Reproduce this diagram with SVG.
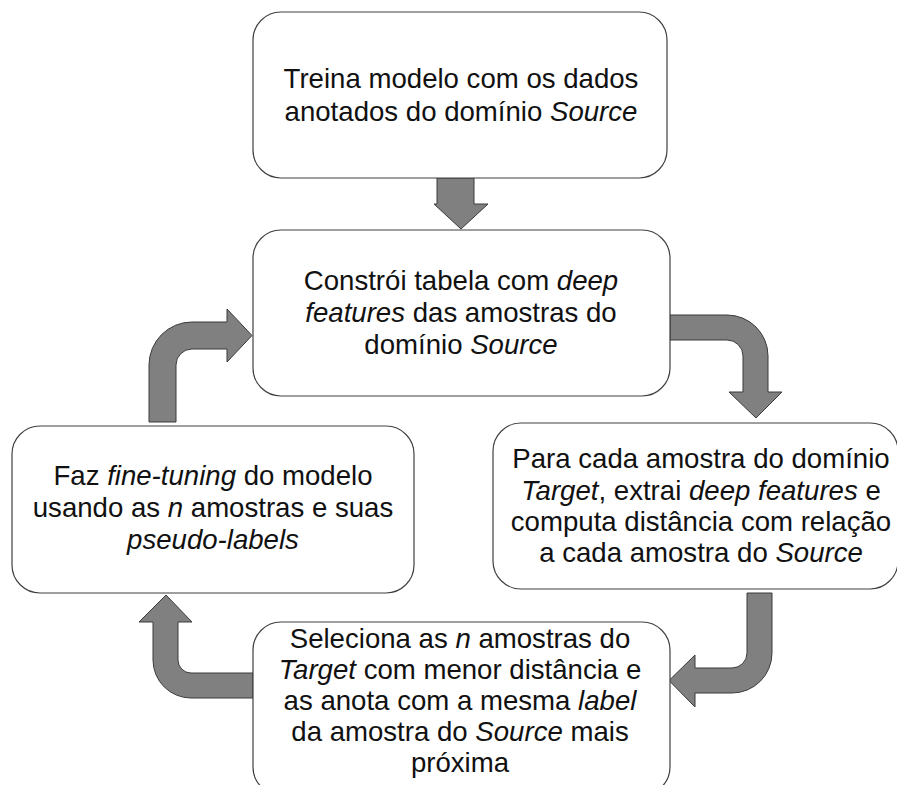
<svg xmlns="http://www.w3.org/2000/svg" width="897" height="785" viewBox="0 0 897 785">
<style>
.box{fill:#fff;stroke:#404040;stroke-width:1.2}
.arr{fill:#808080;stroke:#3a3a3a;stroke-width:1}
text{font-family:"Liberation Sans",Arial,sans-serif;font-size:27.6px;fill:#111;text-anchor:middle}
.i{font-style:italic}
</style>
<rect width="897" height="785" fill="#fff"/>
<g id="connectors">
<path class="arr" d="M437,178 H474 V204 H488 L461,229 L434,204 H437 Z"/>
<path class="arr" d="M670,315 H727 A41,41 0 0 1 768,356 V392 H782 L756,418 L729,392 H743 V356 A16,16 0 0 0 727,340 H670 Z"/>
<path class="arr" d="M149,422 V365 A43,43 0 0 1 192,322 H227 V309 L252,335.5 L227,362 V349 H192 A16,16 0 0 0 176,365 V422 Z"/>
<path class="arr" d="M747,593 H772 V653 A40,40 0 0 1 732,693 H695 V707 L669,680.5 L695,655 V668 H732 A15,15 0 0 0 747,653 Z"/>
<path class="arr" d="M253,673 H191 A13,13 0 0 1 178,660 V622 H192 L166,595 L139,622 H153 V660 A38,38 0 0 0 191,698 H253 Z"/>
</g>
<g id="n1">
<rect class="box" x="253" y="12" width="414" height="166" rx="28"/>
<text x="461" y="88">Treina modelo com os dados</text>
<text x="461" y="120.5">anotados do domínio <tspan class="i">Source</tspan></text>
</g>
<g id="n2">
<rect class="box" x="253" y="230" width="417" height="166" rx="28"/>
<text x="461" y="290">Constrói tabela com <tspan class="i">deep</tspan></text>
<text x="461" y="322"><tspan class="i">features</tspan> das amostras do</text>
<text x="461" y="354">domínio <tspan class="i">Source</tspan></text>
</g>
<g id="n3">
<rect class="box" x="493" y="423" width="405" height="166" rx="28"/>
<text x="701" y="468">Para cada amostra do domínio</text>
<text x="701" y="500"><tspan class="i">Target</tspan>, extrai <tspan class="i">deep features</tspan> e</text>
<text x="701" y="531">computa distância com relação</text>
<text x="701" y="562">a cada amostra do <tspan class="i">Source</tspan></text>
</g>
<g id="n4">
<rect class="box" x="12" y="426" width="402" height="167" rx="28"/>
<text x="213" y="485">Faz <tspan class="i">fine-tuning</tspan> do modelo</text>
<text x="213" y="517">usando as <tspan class="i">n</tspan> amostras e suas</text>
<text x="213" y="549"><tspan class="i">pseudo-labels</tspan></text>
</g>
<g id="n5">
<rect class="box" x="253" y="622" width="417" height="173" rx="28"/>
<text x="460" y="648">Seleciona as <tspan class="i">n</tspan> amostras do</text>
<text x="460" y="679"><tspan class="i">Target</tspan> com menor distância e</text>
<text x="460" y="710">as anota com a mesma <tspan class="i">label</tspan></text>
<text x="460" y="741">da amostra do <tspan class="i">Source</tspan> mais</text>
<text x="460" y="772">próxima</text>
</g>
</svg>
